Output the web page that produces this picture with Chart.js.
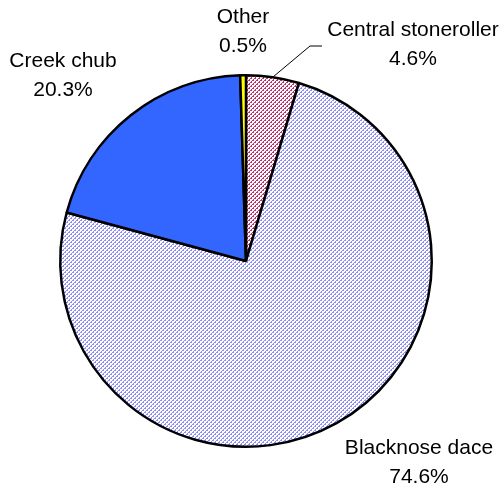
<!DOCTYPE html>
<html>
<head>
<meta charset="utf-8">
<script src="https://cdn.jsdelivr.net/npm/chart.js@4.4.1/dist/chart.umd.min.js"></script>
<style>
    html, body { margin: 0; padding: 0; background: #fff; }
    #wrap { width: 503px; height: 489px; }
</style>
</head>
<body>
<div id="wrap"><canvas id="pie" width="503" height="489"></canvas></div>
<script>
// slices, clockwise from 12 o'clock
const species = ['Central stoneroller', 'Blacknose dace', 'Creek chub', 'Other'];
const percents = [4.6, 74.6, 20.3, 0.5];

// label centers (first line) for each slice
const labelSpots = [
    { x: 413, y: 30, leader: true },
    { x: 419, y: 448 },
    { x: 63, y: 61 },
    { x: 243, y: 17 }
];

function makePattern(fg, bg) {
    const tile = document.createElement('canvas');
    tile.width = 4;
    tile.height = 4;
    const t = tile.getContext('2d');
    t.fillStyle = bg;
    t.fillRect(0, 0, 4, 4);
    t.fillStyle = fg;
    for (let y = 0; y < 4; y++) {
        for (let x = 0; x < 4; x++) {
            if ((x + y) % 4 === 0 || ((x + y) % 4 === 1 && y % 2 === 0)) {
                t.fillRect(x, y, 1, 1);
            }
        }
    }
    return document.getElementById('pie').getContext('2d').createPattern(tile, 'repeat');
}

const fills = [
    makePattern('#c0306a', '#ffffff'),
    makePattern('#8c8cff', '#ffffff'),
    '#3366ff',
    '#ffff00'
];

const labelPlugin = {
    id: 'sliceLabels',
    afterDatasetsDraw(chart) {
        const ctx = chart.ctx;
        const arcs = chart.getDatasetMeta(0).data;
        ctx.save();
        ctx.font = '21px "Liberation Sans", Arial, sans-serif';
        ctx.fillStyle = '#000';
        ctx.textAlign = 'center';
        ctx.textBaseline = 'middle';
        arcs.forEach((arc, i) => {
            const spot = labelSpots[i];
            if (spot.leader) {
                const mid = (arc.startAngle + arc.endAngle) / 2;
                const sx = arc.x + Math.cos(mid) * arc.outerRadius;
                const sy = arc.y + Math.sin(mid) * arc.outerRadius;
                ctx.strokeStyle = '#000';
                ctx.lineWidth = 1;
                ctx.beginPath();
                ctx.moveTo(sx, sy);
                ctx.lineTo(310, 46);
                ctx.lineTo(322, 46);
                ctx.stroke();
            }
            ctx.fillText(species[i], spot.x, spot.y);
            ctx.fillText(percents[i].toFixed(1) + '%', spot.x, spot.y + 29);
        });
        ctx.restore();
    }
};

new Chart(document.getElementById('pie'), {
    type: 'pie',
    data: {
        labels: species,
        datasets: [{
            data: percents,
            backgroundColor: fills,
            borderColor: '#000',
            borderWidth: 2.5,
            borderAlign: 'center'
        }]
    },
    options: {
        responsive: false,
        animation: false,
        layout: { padding: { left: 59, right: 70, top: 74, bottom: 41 } },
        plugins: {
            legend: { display: false },
            tooltip: { enabled: false }
        }
    },
    plugins: [labelPlugin]
});
</script>
</body>
</html>
